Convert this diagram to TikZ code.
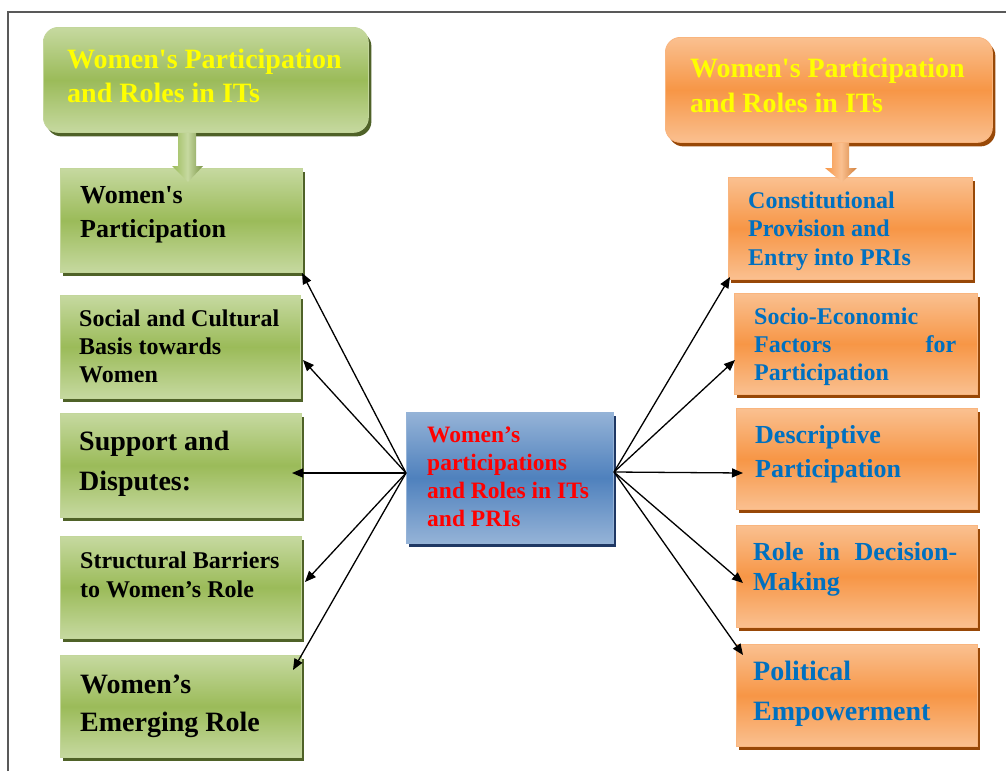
\documentclass[tikz,border=0pt]{standalone}
\usepackage{fontspec}
\setmainfont{Liberation Serif}
\usetikzlibrary{arrows.meta,shadows}
\definecolor{gLight}{HTML}{C6D9A0}
\definecolor{gMid}{HTML}{9BBB59}
\definecolor{gDark}{HTML}{4F6228}
\definecolor{oLight}{HTML}{FAC090}
\definecolor{oMid}{HTML}{F79646}
\definecolor{oDark}{HTML}{984807}
\definecolor{bLight}{HTML}{95B3D7}
\definecolor{bMid}{HTML}{4F81BD}
\definecolor{bDark}{HTML}{1F3864}
\definecolor{txtBlue}{HTML}{0070C0}
\definecolor{txtYellow}{HTML}{FFFF00}
\tikzset{
  gbox/.style={rectangle, inner sep=0pt, anchor=north west, draw=gMid!60!white, line width=0.8pt,
    top color=gLight, bottom color=gLight, middle color=gMid,
    general shadow={fill=gDark, shadow xshift=3pt, shadow yshift=-4pt}},
  obox/.style={rectangle, inner sep=0pt, anchor=north west, draw=oMid!70!white, line width=0.8pt,
    top color=oLight, bottom color=oLight, middle color=oMid,
    general shadow={fill=oDark, shadow xshift=3pt, shadow yshift=-4pt}},
  bbox/.style={rectangle, inner sep=0pt, anchor=north west, draw=bMid!60!white, line width=0.8pt,
    top color=bLight, bottom color=bLight, middle color=bMid,
    general shadow={fill=bDark, shadow xshift=3pt, shadow yshift=-4pt}},
  txt/.style={inner sep=0pt, anchor=base west, align=left, font=\bfseries},
  conn/.style={-{Triangle[length=11pt,width=9pt]}, line width=1.3pt, black},
  fs/.style n args={2}{font=\bfseries\fontsize{#1}{#2}\selectfont}
}
\begin{document}
\begin{tikzpicture}[x=1pt,y=-1pt]
\useasboundingbox (0,0) rectangle (1006,771);
\fill[white] (0,0) rectangle (1006,771);
% frame
\draw[black!65, line width=1.2pt] (8,771) -- (8,12) -- (1006,12);

% top boxes
\node[gbox, rounded corners=15pt, minimum width=325pt, minimum height=105pt] (TL) at (43,27) {};
\node[txt, fs={28}{34}, text=txtYellow] (TLt) at (67,102) {Women\textquotesingle s Participation\\and Roles in ITs};
\node[obox, rounded corners=15pt, minimum width=327pt, minimum height=105pt] (TR) at (665,37) {};
\node[txt, fs={28}{35}, text=txtYellow] (TRt) at (690,112) {Women\textquotesingle s Participation\\and Roles in ITs};

% left boxes
\node[gbox, minimum width=242pt, minimum height=104pt] (L1) at (60,168) {};
\node[gbox, minimum width=240pt, minimum height=103pt] (L2) at (60,295) {};
\node[gbox, minimum width=241pt, minimum height=104pt] (L3) at (60,413) {};
\node[gbox, minimum width=241pt, minimum height=102pt] (L4) at (60,536) {};
\node[gbox, minimum width=241pt, minimum height=102pt] (L5) at (60,655) {};

% right boxes
\node[obox, minimum width=244pt, minimum height=102pt] (R1) at (728,177) {};
\node[obox, minimum width=243pt, minimum height=101pt] (R2) at (734,293) {};
\node[obox, minimum width=241pt, minimum height=101pt] (R3) at (736,408) {};
\node[obox, minimum width=241pt, minimum height=102pt] (R4) at (736,525) {};
\node[obox, minimum width=241pt, minimum height=102pt] (R5) at (736,644) {};

% centre box
\node[bbox, minimum width=207pt, minimum height=131pt] (C) at (406,412) {};

% block arrows
\path[left color=gMid, right color=gMid!80!black, middle color=gLight]
  (178,133) -- (196,133) -- (196,166) -- (203,166) -- (188,182) -- (172,166) -- (178,166) -- cycle;
\path[left color=oMid, right color=oMid!85!black, middle color=oLight]
  (832,143) -- (849,143) -- (849,168) -- (857,168) -- (842,182) -- (825,168) -- (832,168) -- cycle;

% texts (anchor = baseline of last line)
\node[txt, fs={26}{34}] (L1t) at (80,237) {Women\textquotesingle s\\Participation};
\node[txt, fs={24}{28}] (L2t) at (79,382) {Social and Cultural\\Basis towards\\Women};
\node[txt, fs={28}{40}] (L3t) at (79,490) {Support and\\Disputes:};
\node[txt, fs={24}{29}] (L4t) at (80,597) {Structural Barriers\\to Women’s Role};
\node[txt, fs={28}{38}] (L5t) at (80,731) {Women’s\\Emerging Role};

\node[txt, fs={23.5}{28}, text=red] (Ct) at (427,526) {Women’s\\participations\\and Roles in ITs\\and PRIs};

\node[txt, fs={24}{28.5}, text=txtBlue] (R1t) at (748,265) {Constitutional\\Provision and\\Entry into PRIs};
\node[txt, fs={24}{28}, text=txtBlue] (R2t) at (754,380) {Socio-Economic\\\hbox to 202pt{Factors\hfill for}\\Participation};
\node[txt, fs={26}{34}, text=txtBlue] (R3t) at (755,477) {Descriptive\\Participation};
\node[txt, fs={26}{30}, text=txtBlue] (R4t) at (753,590) {\hbox to 204pt{Role\hfill in\hfill Decision-}\\Making};
\node[txt, fs={28}{40}, text=txtBlue] (R5t) at (753,720) {Political\\Empowerment};

% connector end points
\coordinate (cL) at (406,473);
\coordinate (cR) at (614,472);
\coordinate (t1) at (302,273);
\coordinate (t2) at (303,360);
\coordinate (t3) at (292,473);
\coordinate (t4) at (305,582);
\coordinate (t5) at (293,670);
\coordinate (r1) at (730,277);
\coordinate (r2) at (735,360);
\coordinate (r3) at (743,473);
\coordinate (r4) at (743,583);
\coordinate (r5) at (743,655);

\foreach \t in {t1,t2,t3,t4,t5} \draw[conn] (cL) -- (\t);
\foreach \t in {r1,r2,r3,r4,r5} \draw[conn] (cR) -- (\t);
\end{tikzpicture}
\end{document}
